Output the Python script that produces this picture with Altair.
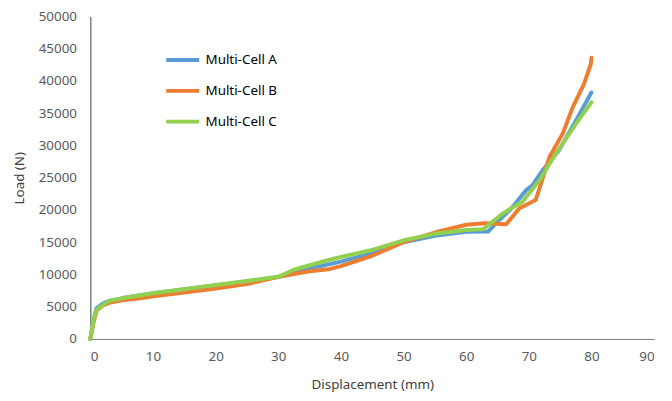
import altair as alt
import pandas as pd

series_names = ["Multi-Cell A", "Multi-Cell B", "Multi-Cell C"]
colors = ["#5B9BD5", "#ED7D31", "#92D050"]

a_x = [0, 0.5, 1, 2, 3, 5, 8, 10, 15, 20, 25, 30, 35, 40, 45, 50, 55, 60, 63.5, 65, 67, 69.6, 70.6, 72.2, 74.8, 77.5, 80]
a_y = [0, 3000, 4800, 5500, 5900, 6300, 6800, 7100, 7700, 8300, 8900, 9600, 10900, 12000, 13300, 15000, 16000, 16600, 16650, 18200, 20000, 23100, 23850, 26150, 29200, 33850, 38200]

b_x = [0, 0.5, 1, 2, 3, 5, 8, 10, 15, 20, 25, 30, 35, 38, 40, 45, 50, 55, 60, 63, 66.4, 68.5, 71.1, 73.3, 75.4, 77, 78.8, 79.9, 80]
b_y = [0, 2500, 4400, 5200, 5600, 6000, 6300, 6600, 7200, 7800, 8500, 9650, 10500, 10800, 11300, 12900, 15000, 16500, 17700, 17950, 17800, 20260, 21540, 28200, 31800, 35900, 39500, 42600, 43600]

c_x = [0, 0.5, 1, 1.4, 3, 5, 8.8, 10, 15, 19.4, 25, 30, 32.6, 37.9, 40, 45, 50, 55, 60, 62.7, 65.9, 69, 71.7, 74.3, 77.5, 80]
c_y = [0, 3000, 4500, 4870, 5900, 6300, 6900, 7100, 7700, 8300, 9000, 9650, 10770, 12200, 12700, 13800, 15300, 16300, 16900, 17000, 19500, 21280, 24600, 28700, 33300, 36700]

rows = []
for name, xs, ys in zip(series_names, [a_x, b_x, c_x], [a_y, b_y, c_y]):
    for i, (x, y) in enumerate(zip(xs, ys)):
        rows.append({"series": name, "disp": x, "load": y, "idx": i})
df = pd.DataFrame(rows)

font = "Noto Sans"
label_color = "#595959"

chart = alt.Chart(df).mark_line(strokeWidth=4, strokeCap="round", strokeJoin="round").encode(
    x=alt.X("disp:Q", title="Displacement (mm)",
            scale=alt.Scale(domain=[0, 90], nice=False),
            axis=alt.Axis(values=list(range(0, 91, 10)), grid=False, ticks=False,
                          labelPadding=11, titlePadding=14, domainColor="#7f7f7f")),
    y=alt.Y("load:Q", title="Load (N)",
            scale=alt.Scale(domain=[0, 50000], nice=False),
            axis=alt.Axis(values=list(range(0, 50001, 5000)), format="d", grid=False, ticks=False,
                          labelPadding=14, titlePadding=12, domainColor="#404040")),
    color=alt.Color("series:N", scale=alt.Scale(domain=series_names, range=colors),
                    legend=alt.Legend(title=None, orient="none", legendX=74, legendY=25,
                                      symbolType="stroke", symbolStrokeWidth=4, symbolSize=1100,
                                      rowPadding=4, labelOffset=4, labelFontSize=13.5,
                                      labelFont=font, labelColor="#000000")),
    order="idx:Q",
).properties(
    width=568, height=325,
    padding={"left": 83, "top": 7, "right": 10, "bottom": 60},
    autosize=alt.AutoSizeParams(type="none"),
).configure_view(stroke=None).configure_axis(
    labelFont=font, titleFont=font, labelFontSize=13.5, titleFontSize=13.5,
    labelColor=label_color, titleColor="#404040", titleFontWeight="normal"
)

chart.save("out.html", embed_options={"renderer": "svg", "actions": False})
